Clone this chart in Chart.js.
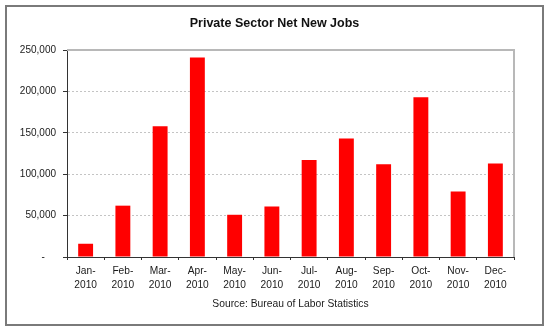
<!DOCTYPE html>
<html>
<head>
<meta charset="utf-8">
<script src="https://cdn.jsdelivr.net/npm/chart.js@4"></script>
<style>
  html, body { margin: 0; padding: 0; background: #fff; }
  #wrap { width: 550px; height: 332px; position: relative; }
</style>
</head>
<body>
<div id="wrap"><canvas id="c"></canvas></div>
<script>
// ---- Data ----
const months = ['Jan-', 'Feb-', 'Mar-', 'Apr-', 'May-', 'Jun-', 'Jul-', 'Aug-', 'Sep-', 'Oct-', 'Nov-', 'Dec-'];
const years = ['2010', '2010', '2010', '2010', '2010', '2010', '2010', '2010', '2010', '2010', '2010', '2010'];
const netNewJobs = [16000, 62000, 158000, 241000, 51000, 61000, 117000, 143000, 112000, 193000, 79000, 113000];
const yTickValues = [0, 50000, 100000, 150000, 200000, 250000];
const yTickLabels = ['-    ', '50,000', '100,000', '150,000', '200,000', '250,000'];
const chartTitle = 'Private Sector Net New Jobs';
const sourceNote = 'Source: Bureau of Labor Statistics';

const categories = months.map((m, i) => [m, years[i]]);

const frame = {
  id: 'frame',
  beforeDraw(chart) {
    const ctx = chart.ctx;
    ctx.save();
    ctx.fillStyle = '#ffffff';
    ctx.fillRect(0, 0, chart.width, chart.height);
    ctx.restore();
  },
  afterDraw(chart) {
    const ctx = chart.ctx;
    const a = chart.chartArea;
    ctx.save();
    // plot area top and right border
    ctx.strokeStyle = '#b8b8b8';
    ctx.lineWidth = 2;
    ctx.beginPath();
    ctx.moveTo(a.left, a.top);
    ctx.lineTo(a.right, a.top);
    ctx.lineTo(a.right, a.bottom);
    ctx.stroke();
    // outer chart border
    ctx.strokeStyle = '#7a7a7a';
    ctx.lineWidth = 2;
    ctx.strokeRect(6, 6, 537, 319);
    // chart title, centred on the outer frame
    ctx.fillStyle = '#111';
    ctx.font = 'bold 12.5px "Liberation Sans", Arial, sans-serif';
    ctx.textAlign = 'center';
    ctx.textBaseline = 'middle';
    ctx.fillText(chartTitle, 274.5, 23.5);
    ctx.restore();
  }
};

new Chart(document.getElementById('c'), {
  type: 'bar',
  data: {
    labels: categories,
    datasets: [{
      data: netNewJobs,
      backgroundColor: '#ff0000',
      borderWidth: 0,
      barPercentage: 0.4,
      categoryPercentage: 1.0
    }]
  },
  options: {
    responsive: true,
    maintainAspectRatio: false,
    animation: false,
    devicePixelRatio: 1,
    layout: { padding: { left: 10, right: 36, top: 50, bottom: 22 } },
    plugins: {
      legend: { display: false },
      tooltip: { enabled: false },
      title: { display: false }
    },
    scales: {
      x: {
        grid: {
          display: true,
          drawOnChartArea: false,
          drawTicks: true,
          tickLength: 3,
          tickColor: '#333',
          offset: true
        },
        border: { display: true, color: '#333', width: 1 },
        ticks: {
          color: '#1a1a1a',
          padding: 5,
          maxRotation: 0,
          autoSkip: false,
          font: { family: 'Liberation Sans, Arial, sans-serif', size: 10.2, lineHeight: 1.3 }
        },
        title: {
          display: true,
          text: sourceNote,
          color: '#1a1a1a',
          font: { family: 'Liberation Sans, Arial, sans-serif', size: 10.3, lineHeight: 1.2 },
          padding: { top: 2, bottom: 0 }
        },
        afterFit(scale) { scale.height = 53; }
      },
      y: {
        min: 0,
        max: 250000,
        afterBuildTicks(scale) { scale.ticks = yTickValues.map(v => ({ value: v })); },
        grid: {
          color: (ctx) => (ctx.tick && (ctx.tick.value === 0 || ctx.tick.value === 250000)) ? 'rgba(0,0,0,0)' : '#c4c4c4',
          lineWidth: 1,
          drawTicks: true,
          tickLength: 4,
          tickColor: '#333'
        },
        border: { display: true, color: '#333', width: 1, dash: [2, 2] },
        ticks: {
          color: '#1a1a1a',
          padding: 7,
          font: { family: 'Liberation Sans, Arial, sans-serif', size: 10 },
          callback: (value) => {
            const i = yTickValues.indexOf(value);
            return i >= 0 ? yTickLabels[i] : '';
          }
        },
        afterFit(scale) { scale.width = 57; }
      }
    }
  },
  plugins: [frame]
});
</script>
</body>
</html>
